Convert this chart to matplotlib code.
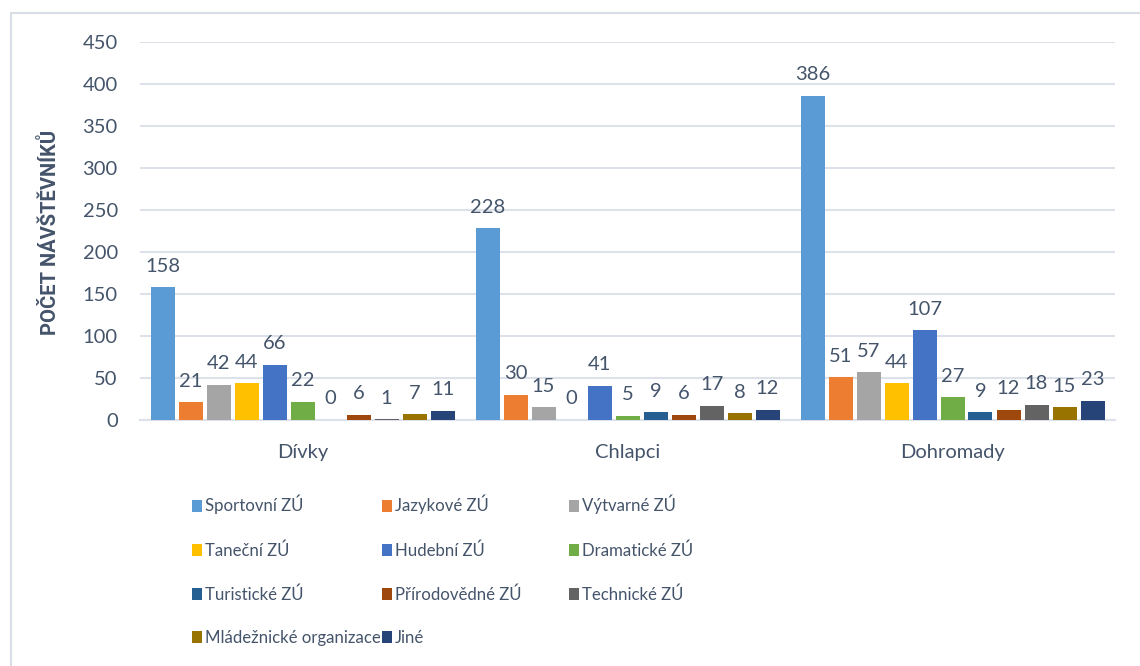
import matplotlib
matplotlib.use("Agg")
import matplotlib.pyplot as plt
from matplotlib.patches import Rectangle, Patch
import numpy as np

plt.rcParams['font.family'] = ['Lato', 'DejaVu Sans']

groups = ["Dívky", "Chlapci", "Dohromady"]
series = ["Sportovní ZÚ", "Jazykové ZÚ", "Výtvarné ZÚ", "Taneční ZÚ", "Hudební ZÚ",
          "Dramatické ZÚ", "Turistické ZÚ", "Přírodovědné ZÚ", "Technické ZÚ",
          "Mládežnické organizace", "Jiné"]
divky = [158, 21, 42, 44, 66, 22, 0, 6, 1, 7, 11]
chlapci = [228, 30, 15, 0, 41, 5, 9, 6, 17, 8, 12]
dohromady = [386, 51, 57, 44, 107, 27, 9, 12, 18, 15, 23]
colors = ["#5B9BD5", "#ED7D31", "#A5A5A5", "#FFC000", "#4472C4", "#70AD47",
          "#255E91", "#9E480E", "#636363", "#997300", "#264478"]
yticks = [0, 50, 100, 150, 200, 250, 300, 350, 400, 450]

TXT = "#44546A"
W, H = 1140, 666
fig = plt.figure(figsize=(W / 100, H / 100), dpi=100)
ax = fig.add_axes([140 / W, 1 - 420 / H, (1115 - 140) / W, (420 - 42) / H])

data = np.array([divky, chlapci, dohromady]).T  # series x groups
x = np.arange(len(groups))
step = 28 / 325
width = 24 / 325
for i, (name, vals) in enumerate(zip(series, data)):
    pos = x + (i - (len(series) - 1) / 2) * step
    bars = ax.bar(pos, vals, width=width, color=colors[i], label=name, zorder=3)
    for b, v in zip(bars, vals):
        ax.annotate(str(v), (b.get_x() + b.get_width() / 2, v), xytext=(0, 9),
                    textcoords="offset points", ha="center", va="bottom",
                    fontsize=14.5, color=TXT)

ax.set_xlim(-0.5, 2.5)
ax.set_ylim(0, 450)
ax.set_yticks(yticks)
ax.set_xticks(x)
ax.set_xticklabels(groups)
ax.tick_params(axis="y", length=0, pad=16, labelsize=14.5, labelcolor=TXT)
ax.tick_params(axis="x", length=0, pad=17, labelsize=14.5, labelcolor=TXT)
ax.grid(axis="y", color="#DDE2EA", linewidth=1.5, zorder=0)
for s in ["top", "right", "left"]:
    ax.spines[s].set_visible(False)
ax.spines["bottom"].set_color("#DDE2EA")
ax.spines["bottom"].set_linewidth(1.5)
ax.set_ylabel("POČET NÁVŠTĚVNÍKŮ", fontsize=14.5, fontweight="bold", color=TXT,
              family=["Roboto", "DejaVu Sans"])
ax.yaxis.set_label_coords(-(140 - 60) / (1115 - 140), (420 - 232) / (420 - 42))

# legend in three columns (Excel-like fixed column widths)
cols = [[0, 3, 6, 9], [1, 4, 7, 10], [2, 5, 8]]
col_x = [192, 382, 569]
for cx, idx in zip(col_x, cols):
    fig.legend([Patch(facecolor=colors[k]) for k in idx], [series[k] for k in idx],
               loc="upper left", bbox_to_anchor=(cx / W, 1 - 495 / H),
               frameon=False, fontsize=12.1, labelcolor=TXT,
               handlelength=0.6, handleheight=0.72, handletextpad=0.18,
               labelspacing=1.64, borderpad=0, borderaxespad=0)

fig.patches.append(Rectangle((11 / W, -0.1), 1.2, 1.1 - 13 / H, transform=fig.transFigure,
                             fill=False, edgecolor="#D9DEE6", linewidth=1.5))

fig.savefig("out.png", dpi=100, facecolor="white")
